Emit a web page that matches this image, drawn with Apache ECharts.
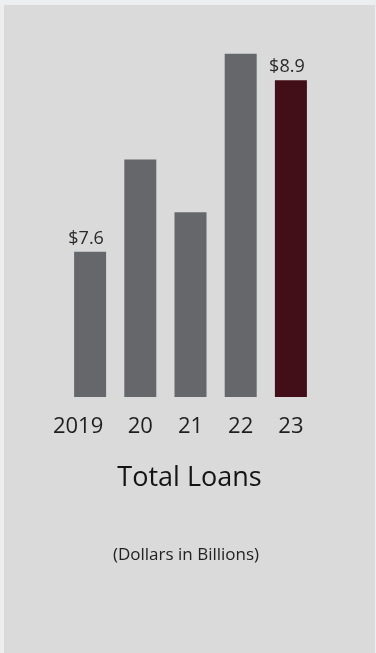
<!DOCTYPE html>
<html>
<head>
<meta charset="utf-8">
<script src="https://cdn.jsdelivr.net/npm/echarts@6/dist/echarts.min.js"></script>
<style>
  html, body { margin: 0; padding: 0; background: #eceef0; }
  #chart { width: 376px; height: 653px; }
</style>
</head>
<body>
<div id="chart"></div>
<script>
// Total loans by year, dollars in billions
const years = ['2019', '20', '21', '22', '23'];
const loans = [7.6, 8.3, 7.9, 9.1, 8.9];
const labelledYears = ['2019', '23'];
const chartTitle = 'Total Loans';
const chartNote = '(Dollars in Billions)';

const GRAY = '#66676b';
const MAROON = '#420e17';
const FONT = '"Open Sans", "Noto Sans", sans-serif';

const chart = echarts.init(document.getElementById('chart'), null, { renderer: 'canvas' });

const barData = loans.map((v, i) => ({
  value: v,
  itemStyle: { color: i === years.length - 1 ? MAROON : GRAY },
  label: { show: labelledYears.includes(years[i]) }
}));

chart.setOption({
  backgroundColor: '#eceef0',
  animation: false,
  graphic: [
    { type: 'rect', z: -10, shape: { x: 4, y: 5, width: 371, height: 660 }, style: { fill: '#dadada' } },
    { type: 'text', style: { text: chartTitle, x: 189.5, y: 478, align: 'center', verticalAlign: 'middle', font: '500 27px ' + FONT, fill: '#141414' } },
    { type: 'text', style: { text: chartNote, x: 186, y: 555, align: 'center', verticalAlign: 'middle', font: '17px ' + FONT, fill: '#222222' } }
  ],
  grid: { left: 65, right: 60, top: 1, bottom: 256 },
  xAxis: {
    type: 'category',
    data: years,
    axisLine: { show: false },
    axisTick: { show: false },
    axisLabel: {
      interval: 0,
      color: '#1e1e1e',
      fontSize: 22,
      fontFamily: FONT,
      margin: 19,
      // the full year sits slightly left of its bar
      formatter: v => v.length > 2 ? '{wide|' + v + '}' : v,
      rich: { wide: { fontSize: 22, fontFamily: FONT, color: '#1e1e1e', padding: [0, 24, 0, 0] } }
    }
  },
  yAxis: {
    type: 'value',
    min: 6.5,
    max: 9.5,
    show: false
  },
  series: [{
    type: 'bar',
    data: barData,
    barWidth: 32,
    label: {
      position: 'top',
      distance: 4,
      offset: [-4, 0],
      color: '#2a2a2a',
      fontSize: 18,
      fontFamily: FONT,
      formatter: p => '$' + p.value.toFixed(1)
    }
  }]
});
</script>
</body>
</html>
